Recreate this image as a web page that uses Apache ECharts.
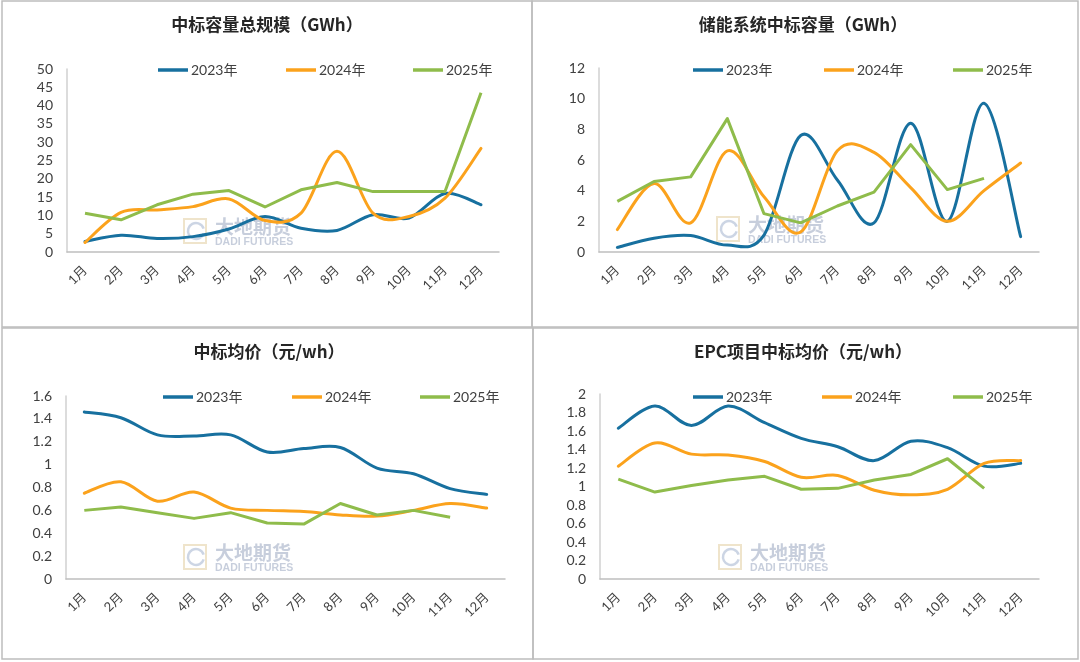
<!DOCTYPE html>
<html>
<head>
<meta charset="utf-8">
<script src="https://cdn.jsdelivr.net/npm/echarts@6/dist/echarts.min.js"></script>
<style>
html,body{margin:0;padding:0;background:#fff;}
#c{width:1080px;height:662px;}
</style>
</head>
<body>
<div id="c"></div>
<script>
// ---- data ----
var months = ['1月','2月','3月','4月','5月','6月','7月','8月','9月','10月','11月','12月'];
var yearNames = ['2023年','2024年','2025年'];

// 中标容量总规模（GWh）
var totalCap2023 = [2.9, 4.6, 3.7, 4.2, 6.3, 9.7, 6.5, 5.9, 10.2, 9.3, 16.0, 12.9];
var totalCap2024 = [2.6, 10.8, 11.5, 12.4, 14.5, 8.6, 10.6, 27.5, 10.6, 9.7, 14.7, 28.3];
var totalCap2025 = [10.6, 8.8, 12.9, 15.8, 16.8, 12.3, 17.0, 19.0, 16.5, 16.5, 16.5, 43.5];

// 储能系统中标容量（GWh）
var sysCap2023 = [0.3, 0.9, 1.07, 0.45, 1.1, 7.6, 4.7, 1.9, 8.4, 2.0, 9.7, 1.0];
var sysCap2024 = [1.46, 4.46, 1.9, 6.6, 3.6, 1.3, 6.6, 6.5, 4.2, 2.0, 4.0, 5.8];
var sysCap2025 = [3.3, 4.6, 4.9, 8.7, 2.5, 1.9, 3.0, 3.9, 7.0, 4.07, 4.8];

// 中标均价（元/wh）
var price2023 = [1.46, 1.41, 1.26, 1.25, 1.26, 1.11, 1.14, 1.15, 0.97, 0.92, 0.79, 0.74];
var price2024 = [0.75, 0.85, 0.68, 0.76, 0.62, 0.60, 0.59, 0.56, 0.55, 0.60, 0.66, 0.62];
var price2025 = [0.60, 0.63, 0.58, 0.53, 0.58, 0.49, 0.48, 0.66, 0.56, 0.60, 0.54];

// EPC项目中标均价（元/wh）
var epc2023 = [1.63, 1.87, 1.66, 1.87, 1.69, 1.52, 1.43, 1.28, 1.49, 1.42, 1.22, 1.25];
var epc2024 = [1.22, 1.47, 1.35, 1.34, 1.27, 1.10, 1.12, 0.96, 0.91, 0.97, 1.25, 1.28];
var epc2025 = [1.08, 0.94, 1.01, 1.07, 1.11, 0.97, 0.98, 1.07, 1.13, 1.30, 0.98];

var panelTitles = ['中标容量总规模（GWh）','储能系统中标容量（GWh）','中标均价（元/wh）','EPC项目中标均价（元/wh）'];

// ---- styling / layout ----
var colors = ['#17709f', '#fba21c', '#8fbc4b'];
var grids = [
  {left: 67, top: 69, width: 432, height: 183},
  {left: 599, top: 68, width: 440, height: 184},
  {left: 66, top: 396, width: 439, height: 183},
  {left: 600, top: 394, width: 439, height: 185}
];
var yCfg = [
  {min: 0, max: 50, interval: 5},
  {min: 0, max: 12, interval: 2},
  {min: 0, max: 1.6, interval: 0.2},
  {min: 0, max: 2, interval: 0.2}
];
var titlePos = [[267, 25], [803, 25], [269, 352], [803, 352]];
var legendPos = [
  [[158, 70], [286, 70], [413, 70]],
  [[693, 70], [824, 70], [953, 70]],
  [[163, 397], [292, 397], [420, 397]],
  [[693, 397], [822, 397], [953, 397]]
];
var watermarkPos = [[182, 217], [715, 215], [182, 543], [717, 543]];
var dataSets = [
  [totalCap2023, totalCap2024, totalCap2025],
  [sysCap2023, sysCap2024, sysCap2025],
  [price2023, price2024, price2025],
  [epc2023, epc2024, epc2025]
];

var fontLatin = 'Lato, "Noto Sans CJK SC", sans-serif';
var fontCJK = '"Noto Sans CJK SC", sans-serif';

// Excel-like (Catmull-Rom) smoothing through points given in pixel space
function smoothPath(pts) {
  var d = 'M' + pts[0][0] + ' ' + pts[0][1];
  for (var i = 0; i < pts.length - 1; i++) {
    var p0 = pts[Math.max(i - 1, 0)], p1 = pts[i], p2 = pts[i + 1], p3 = pts[Math.min(i + 2, pts.length - 1)];
    var c1x = p1[0] + (p2[0] - p0[0]) / 6, c1y = p1[1] + (p2[1] - p0[1]) / 6;
    var c2x = p2[0] - (p3[0] - p1[0]) / 6, c2y = p2[1] - (p3[1] - p1[1]) / 6;
    d += ' C' + c1x + ' ' + c1y + ' ' + c2x + ' ' + c2y + ' ' + p2[0] + ' ' + p2[1];
  }
  return d;
}

function makeSmoothSeries(name, values, gi, color, z) {
  return {
    type: 'custom', name: name, xAxisIndex: gi, yAxisIndex: gi, z: z,
    data: values.map(function (v, i) { return [i, v]; }),
    encode: {x: 0, y: 1},
    itemStyle: {color: color},
    animation: false,
    renderItem: function (params, api) {
      if (params.dataIndex !== 0) return null;
      var pts = values.map(function (v, i) { return api.coord([i, v]); });
      return {
        type: 'path',
        shape: {pathData: smoothPath(pts)},
        style: {fill: 'none', stroke: color, lineWidth: 3, lineJoin: 'round', lineCap: 'round'}
      };
    }
  };
}

var xAxes = [], yAxes = [], series = [], legends = [], graphics = [];

// panel borders
var borders = [[2, 1, 530, 326], [532, 1, 546, 326], [2, 328, 531, 331], [533, 328, 545, 331]];
borders.forEach(function (b) {
  graphics.push({type: 'rect', shape: {x: b[0], y: b[1], width: b[2], height: b[3]},
    style: {fill: 'none', stroke: '#bdbdbd', lineWidth: 1.5}, z: -10, silent: true});
});

for (var p = 0; p < 4; p++) {
  xAxes.push({
    type: 'category', gridIndex: p, data: months, boundaryGap: true,
    axisLine: {show: true, lineStyle: {color: '#bfbfbf', width: 1.5}},
    axisTick: {show: false},
    axisLabel: {rotate: 45, margin: 16, fontSize: 13, color: '#404040', fontFamily: fontLatin, interval: 0},
    splitLine: {show: false}
  });
  yAxes.push({
    type: 'value', gridIndex: p, min: yCfg[p].min, max: yCfg[p].max, interval: yCfg[p].interval,
    axisLine: {show: true, lineStyle: {color: '#d0d0d0', width: 1.5}},
    axisTick: {show: false},
    axisLabel: {margin: 14, fontSize: 14, color: '#404040', fontFamily: fontLatin},
    splitLine: {show: false}
  });
  for (var s = 0; s < 3; s++) {
    if (s < 2) {
      series.push(makeSmoothSeries(yearNames[s], dataSets[p][s], p, colors[s], 2 + s));
    } else {
      series.push({
        type: 'line', name: yearNames[s], xAxisIndex: p, yAxisIndex: p,
        data: dataSets[p][s], smooth: false,
        showSymbol: false, symbol: 'none',
        lineStyle: {width: 3, color: colors[s], join: 'round'}, itemStyle: {color: colors[s]},
        z: 2 + s, animation: false
      });
    }
    legends.push({
      data: [yearNames[s]], left: legendPos[p][s][0], top: legendPos[p][s][1] - 8,
      orient: 'horizontal', icon: 'rect', itemWidth: 30, itemHeight: 3.5, padding: 0,
      selectedMode: false,
      textStyle: {fontSize: 14, color: '#404040', fontFamily: fontLatin, lineHeight: 16, padding: [0, 0, 0, -2]}
    });
  }
  graphics.push({
    type: 'text', x: titlePos[p][0], y: titlePos[p][1], silent: true,
    style: {text: panelTitles[p], font: 'bold 17px ' + fontCJK, fill: '#262626', align: 'center', verticalAlign: 'middle'}
  });
  // watermark
  var wx = watermarkPos[p][0], wy = watermarkPos[p][1];
  graphics.push({
    type: 'group', silent: true, z: 50, children: [
      {type: 'rect', shape: {x: wx + 2, y: wy + 2, width: 22, height: 24}, style: {fill: 'none', stroke: 'rgba(225,205,160,0.55)', lineWidth: 2}},
      {type: 'arc', shape: {cx: wx + 14, cy: wy + 14, r: 8, startAngle: 0.3, endAngle: Math.PI * 2 - 0.3}, style: {fill: 'none', stroke: 'rgba(170,185,210,0.6)', lineWidth: 2.5}},
      {type: 'text', x: wx + 33, y: wy, style: {text: '大地期货', font: 'bold 19px ' + fontCJK, fill: 'rgba(165,176,198,0.62)'}},
      {type: 'text', x: wx + 33, y: wy + 20, style: {text: 'DADI FUTURES', font: 'bold 10.5px "Liberation Sans", sans-serif', fill: 'rgba(165,176,198,0.62)'}}
    ]
  });
}

var chart = echarts.init(document.getElementById('c'), null, {renderer: 'canvas'});
chart.setOption({
  animation: false,
  backgroundColor: '#ffffff',
  grid: grids.map(function (g) { return Object.assign({containLabel: false}, g); }),
  xAxis: xAxes,
  yAxis: yAxes,
  legend: legends,
  series: series,
  graphic: graphics
});
</script>
</body>
</html>
